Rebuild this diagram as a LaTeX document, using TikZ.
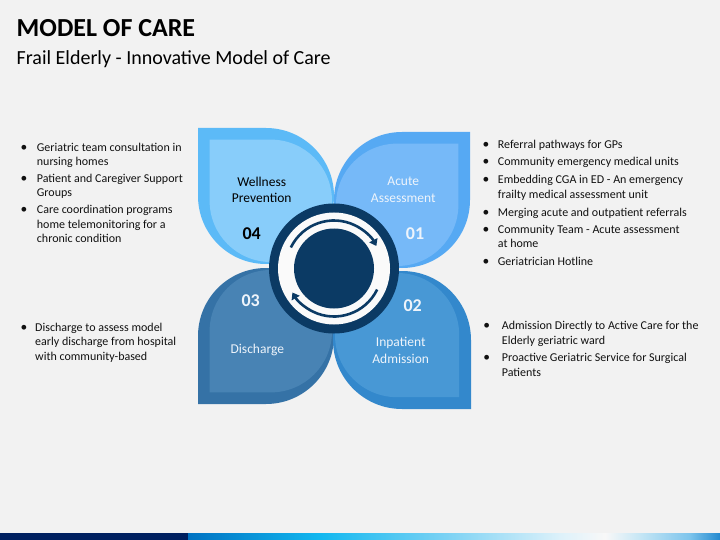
\documentclass[tikz,border=0pt]{standalone}
\usepackage{fontspec}
\setmainfont{Carlito}
\usetikzlibrary{calc,arrows.meta}
\definecolor{bg}{HTML}{F2F2F2}
\definecolor{navy}{HTML}{0B3A64}
\definecolor{tlout}{HTML}{5CBAF7}
\definecolor{tlin}{HTML}{88CDFA}
\definecolor{trout}{HTML}{56A9F3}
\definecolor{trin}{HTML}{76B9F8}
\definecolor{brout}{HTML}{3388CC}
\definecolor{brin}{HTML}{4898D5}
\definecolor{blout}{HTML}{3572A6}
\definecolor{blin}{HTML}{4883B4}
\definecolor{lbl}{HTML}{EEF4FB}
\definecolor{barnavy}{HTML}{002060}
\definecolor{txt}{HTML}{111111}
\definecolor{g1}{HTML}{0072C2}
\definecolor{g2}{HTML}{12B8F0}
\definecolor{g3}{HTML}{7FD3F4}
\definecolor{g4}{HTML}{DDF1FA}
\definecolor{g5}{HTML}{F8F8F8}
\definecolor{g6}{HTML}{C5E6F5}
\definecolor{g7}{HTML}{7CC4EC}
\definecolor{g8}{HTML}{2389CF}
% petal: #1 centre coordinate, #2 radius, #3 direction of the square corner
\newcommand\petalpath[3]{($(#1)+(#3+45:#2)$) -- ($(#1)+(#3:1.41421*#2)$) -- ($(#1)+(#3-45:#2)$) arc[start angle=#3-45, delta angle=-270, radius=#2] -- cycle}
\begin{document}
\begin{tikzpicture}[x=1pt,y=-1pt,
  bodytext/.style={anchor=base west,inner sep=0pt,font=\fontsize{12}{14}\selectfont,text=txt},
  bul/.style={anchor=base,inner sep=0pt,font=\fontsize{13.5}{14}\selectfont,text=txt},
  plabel/.style={anchor=base,inner sep=0pt,font=\fontsize{13.5}{16}\selectfont,text=lbl},
  pnum/.style={anchor=base,inner sep=0pt,font=\fontsize{18}{20}\selectfont\bfseries,text=lbl},
  arrowline/.style={navy,line width=2.6pt,-{Triangle[width=9pt,length=6.5pt]}}]
\useasboundingbox (0,0) rectangle (720,540);
\fill[bg] (0,0) rectangle (720,540);

% titles
\node[anchor=base west,inner sep=0pt,font=\fontsize{26}{30}\selectfont\bfseries] (title) at (16.5,36.7) {MODEL OF CARE};
\node[anchor=base west,inner sep=0pt,font=\fontsize{20}{22}\selectfont] (subtitle) at (16.5,65) {Frail Elderly - Innovative Model of Care};

% petal centres
\coordinate (tlc) at (266,196);   \coordinate (tlci) at (270.8,200.8);
\coordinate (trc) at (402,200);   \coordinate (trci) at (397.2,204.8);
\coordinate (brc) at (402,340);   \coordinate (brci) at (397.1,335.1);
\coordinate (blc) at (266,336);   \coordinate (blci) at (270.8,331.2);

\fill[blout] \petalpath{blc}{68}{135};
\fill[blin]  \petalpath{blci}{61.2}{135};
\fill[brout] \petalpath{brc}{69}{45};
\fill[brin]  \petalpath{brci}{62.1}{45};
\fill[trout] \petalpath{trc}{68}{315};
\fill[trin]  \petalpath{trci}{61.2}{315};
\fill[tlout] \petalpath{tlc}{68}{225};
\fill[tlin]  \petalpath{tlci}{61.2}{225};

% centre circle
\coordinate (c) at (334,268.5);
\fill[navy] (c) circle[radius=65];
\fill[white!60!bg] (c) circle[radius=56];
\fill[navy] (c) circle[radius=40];
\draw[arrowline] ($(c)+(206:48)$) arc[start angle=206, end angle=332, radius=48];
\draw[arrowline] ($(c)+(26:48)$) arc[start angle=26, end angle=150, radius=48];

% petal labels
\node[plabel,text=black] (w1) at (261.7,186.7) {Wellness};
\node[plabel,text=black] (w2) at (261.7,203) {Prevention};
\node[pnum,text=black] (n4) at (251.7,239.3) {04};
\node[plabel] (a1) at (403.3,185.7) {Acute};
\node[plabel] (a2) at (403.3,202.7) {Assessment};
\node[pnum] (n1) at (415,240) {01};
\node[pnum] (n3) at (250.7,306.7) {03};
\node[plabel] (d1) at (257.3,353.3) {Discharge};
\node[pnum] (n2) at (412.7,311.7) {02};
\node[plabel] (i1) at (400.7,346.7) {Inpatient};
\node[plabel] (i2) at (400.7,363.3) {Admission};

% left column
\node[bul] (lb1) at (24,151.7) {•};
\node[bodytext] (l1) at (36.7,151.7) {Geriatric team consultation in};
\node[bodytext] (l2) at (36.7,165.7) {nursing homes};
\node[bul] (lb2) at (24,182.3) {•};
\node[bodytext] (l3) at (36.7,182.3) {Patient and Caregiver Support};
\node[bodytext] (l4) at (36.7,196.7) {Groups};
\node[bul] (lb3) at (24,214) {•};
\node[bodytext] (l5) at (36.7,214) {Care coordination programs};
\node[bodytext] (l6) at (36.7,228.3) {home telemonitoring for a};
\node[bodytext] (l7) at (36.7,242.7) {chronic condition};

% right column
\node[bul] (rb1) at (486,149) {•};
\node[bodytext] (r1) at (497.7,149) {Referral pathways for GPs};
\node[bul] (rb2) at (486,166) {•};
\node[bodytext] (r2) at (497.7,166) {Community emergency medical units};
\node[bul] (rb3) at (486,183.3) {•};
\node[bodytext] (r3) at (497.7,183.3) {Embedding CGA in ED - An emergency};
\node[bodytext] (r4) at (497.7,198.3) {frailty medical assessment unit};
\node[bul] (rb4) at (486,216) {•};
\node[bodytext] (r5) at (497.7,216) {Merging acute and outpatient referrals};
\node[bul] (rb5) at (486,233.3) {•};
\node[bodytext] (r6) at (497.7,233.3) {Community Team - Acute assessment};
\node[bodytext] (r7) at (497.7,247.3) {at home};
\node[bul] (rb6) at (486,265) {•};
\node[bodytext] (r8) at (497.7,265) {Geriatrician Hotline};

% lower left
\node[bul] (llb1) at (24,331) {•};
\node[bodytext] (ll1) at (35,331) {Discharge to assess model};
\node[bodytext] (ll2) at (35,345.7) {early discharge from hospital};
\node[bodytext] (ll3) at (35,360) {with community-based};

% lower right
\node[bul] (lrb1) at (486.7,329) {•};
\node[bodytext] (lr1) at (501.7,329) {Admission Directly to Active Care for the};
\node[bodytext] (lr2) at (501.7,344.3) {Elderly geriatric ward};
\node[bul] (lrb2) at (486.7,361.7) {•};
\node[bodytext] (lr3) at (501.7,361.7) {Proactive Geriatric Service for Surgical};
\node[bodytext] (lr4) at (501.7,376) {Patients};

% bottom bar
\fill[barnavy] (0,533) rectangle (188.5,540);
\shade[left color=g1, right color=g2] (188,533) rectangle (320.5,540);
\shade[left color=g2, right color=g3] (320,533) rectangle (450.5,540);
\shade[left color=g3, right color=g4] (450,533) rectangle (560.5,540);
\shade[left color=g4, right color=g5] (560,533) rectangle (605.5,540);
\shade[left color=g5, right color=g6] (605,533) rectangle (640.5,540);
\shade[left color=g6, right color=g7] (640,533) rectangle (690.5,540);
\shade[left color=g7, right color=g8] (690,533) rectangle (720,540);
\end{tikzpicture}
\end{document}
